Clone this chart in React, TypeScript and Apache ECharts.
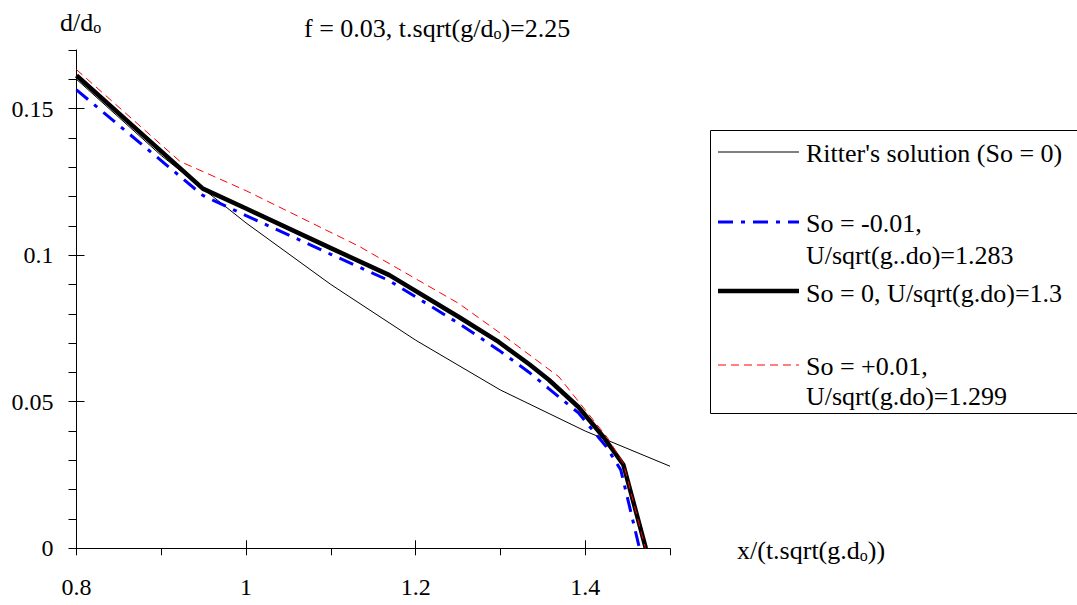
import React, { useEffect, useRef } from "react";
import * as echarts from "echarts";

// Ritter's solution (So = 0)
const ritterX = [0.8, 0.9, 1.0, 1.1, 1.2, 1.3, 1.4, 1.5];
const ritterY = [0.16, 0.134, 0.111, 0.09, 0.071, 0.054, 0.04, 0.028];

// So = -0.01, U/sqrt(g..do)=1.283
const soNegX = [0.8, 0.949, 1.0, 1.1, 1.169, 1.251, 1.298, 1.334, 1.357, 1.392, 1.425, 1.442, 1.464];
const soNegY = [0.1564, 0.1204, 0.1135, 0.1003, 0.0913, 0.0767, 0.0676, 0.06, 0.0545, 0.0462, 0.0346, 0.0267, 0];

// So = 0, U/sqrt(g.do)=1.3
const soZeroX = [0.8, 0.949, 1.0, 1.1, 1.169, 1.251, 1.298, 1.334, 1.357, 1.392, 1.422, 1.445, 1.4715];
const soZeroY = [0.1613, 0.1227, 0.1159, 0.1024, 0.0932, 0.0789, 0.0704, 0.0628, 0.0575, 0.0482, 0.0378, 0.0285, 0];

// So = +0.01, U/sqrt(g.do)=1.299
const soPosX = [0.8, 0.922, 1.0, 1.1335, 1.251, 1.304, 1.369, 1.4, 1.426, 1.445, 1.471];
const soPosY = [0.1633, 0.132, 0.122, 0.103, 0.0835, 0.0725, 0.0585, 0.0472, 0.0378, 0.029, 0];

const xMinorTicks = [0.8, 0.9, 1.0, 1.1, 1.2, 1.3, 1.4, 1.5];
const xMajorTicks = [1.0, 1.2, 1.4];
const xLabels = [0.8, 1.0, 1.2, 1.4];
const yMinorTicks = [0, 0.01, 0.02, 0.03, 0.04, 0.05, 0.06, 0.07, 0.08, 0.09, 0.1, 0.11, 0.12, 0.13, 0.14, 0.15, 0.16, 0.17];
const yMajorTicks = [0.05, 0.1, 0.15];
const yLabels = [0, 0.05, 0.1, 0.15];

const legendNames = [
  ["Ritter's solution (So = 0)"],
  ["So = -0.01,", "U/sqrt(g..do)=1.283"],
  ["So = 0, U/sqrt(g.do)=1.3"],
  ["So = +0.01,", "U/sqrt(g.do)=1.299"],
];

const FONT = "'Liberation Serif', 'Times New Roman', serif";
const FS = 24;
const FT = 26;

const zip = (xs: number[], ys: number[]) => xs.map((x, i) => [x, ys[i]]);

export default function App() {
  const ref = useRef<HTMLDivElement>(null);
  useEffect(() => {
    if (!ref.current) return;
    const chart = echarts.init(ref.current, null, { renderer: "svg" });
    const fmt = (v: number) => String(Math.round(v * 1000) / 1000);
    const lineStyles: any[] = [
      { color: "#000000", width: 1, type: "solid" },
      { color: "#0000ff", width: 3, type: [15, 8, 4, 8] },
      { color: "#000000", width: 4.5, type: "solid" },
      { color: "#ff0000", width: 1, type: [8, 5] },
    ];
    const legendY = [152, 222, 291, 365];
    const legendTextY = [[153], [223, 255], [293], [366, 396]];
    const legendGraphics: any[] = [
      {
        type: "rect",
        shape: { x: 710.5, y: 130.5, width: 380, height: 283 },
        style: { fill: "#ffffff", stroke: "#000000", lineWidth: 1 },
        z: 10,
      },
    ];
    legendNames.forEach((lines, i) => {
      const ls = lineStyles[i];
      legendGraphics.push({
        type: "line",
        shape: { x1: 718, y1: legendY[i], x2: 799, y2: legendY[i] },
        style: {
          stroke: ls.color,
          lineWidth: ls.width,
          lineDash: Array.isArray(ls.type) ? ls.type : null,
        },
        z: 11,
      });
      lines.forEach((t, j) => {
        legendGraphics.push({
          type: "text",
          x: 806,
          y: legendTextY[i][j],
          style: {
            text: t,
            fontFamily: FONT,
            fontSize: FT,
            fill: "#000000",
            verticalAlign: "middle",
          },
          z: 11,
        });
      });
    });

    const rich = {
      m: { fontFamily: FONT, fontSize: FT, lineHeight: 30, color: "#000", verticalAlign: "bottom" },
      s: { fontFamily: FONT, fontSize: 16, lineHeight: 18, color: "#000", verticalAlign: "bottom" },
    };

    const option: any = {
      animation: false,
      backgroundColor: "#ffffff",
      textStyle: { fontFamily: FONT },
      grid: { left: 76.5, top: 50, width: 593.5, height: 498.3, containLabel: false },
      xAxis: [
        {
          type: "value",
          min: 0.8,
          max: 1.5,
          axisLine: { show: true, onZero: false, lineStyle: { color: "#000", width: 1 } },
          axisTick: { show: true, inside: false, length: 7, customValues: xMinorTicks, lineStyle: { color: "#000", width: 1 } },
          axisLabel: {
            show: true,
            customValues: xLabels,
            formatter: fmt,
            margin: 27,
            fontFamily: FONT,
            fontSize: FS,
            color: "#000",
          },
          splitLine: { show: false },
        },
        {
          type: "value",
          min: 0.8,
          max: 1.5,
          position: "bottom",
          axisLine: { show: false, onZero: false },
          axisTick: { show: true, inside: true, length: 8, customValues: xMajorTicks, lineStyle: { color: "#000", width: 1 } },
          axisLabel: { show: false },
          splitLine: { show: false },
        },
      ],
      yAxis: [
        {
          type: "value",
          min: 0,
          max: 0.17,
          axisLine: { show: true, onZero: false, lineStyle: { color: "#000", width: 1 } },
          axisTick: { show: true, inside: false, length: 8, customValues: yMinorTicks, lineStyle: { color: "#000", width: 1 } },
          axisLabel: {
            show: true,
            customValues: yLabels,
            formatter: fmt,
            margin: 23,
            fontFamily: FONT,
            fontSize: FS,
            color: "#000",
          },
          splitLine: { show: false },
        },
        {
          type: "value",
          min: 0,
          max: 0.17,
          position: "left",
          axisLine: { show: false, onZero: false },
          axisTick: { show: true, inside: true, length: 8, customValues: yMajorTicks, lineStyle: { color: "#000", width: 1 } },
          axisLabel: { show: false },
          splitLine: { show: false },
        },
      ],
      series: [
        { name: legendNames[0].join(" "), data: zip(ritterX, ritterY) },
        { name: legendNames[1].join(" "), data: zip(soNegX, soNegY) },
        { name: legendNames[2].join(" "), data: zip(soZeroX, soZeroY) },
        { name: legendNames[3].join(" "), data: zip(soPosX, soPosY) },
      ].map((s, i) => ({
        ...s,
        type: "line",
        xAxisIndex: 0,
        yAxisIndex: 0,
        symbol: "none",
        smooth: false,
        lineStyle: lineStyles[i],
        z: 2 + i,
      })),
      graphic: [
        {
          type: "text",
          x: 60,
          y: 5,
          style: { text: "{m|d/d}{s|o}", rich },
        },
        {
          type: "text",
          x: 304,
          y: 11,
          style: { text: "{m|f = 0.03, t.sqrt(g/d}{s|o}{m|)=2.25}", rich },
        },
        {
          type: "text",
          x: 737,
          y: 533,
          style: { text: "{m|x/(t.sqrt(g.d}{s|o}{m|))}", rich },
        },
        ...legendGraphics,
      ],
    };
    chart.setOption(option);
    return () => chart.dispose();
  }, []);
  return (
    <div
      ref={ref}
      style={{ position: "fixed", left: 0, top: 0, width: 1077, height: 605, background: "#fff" }}
    />
  );
}
